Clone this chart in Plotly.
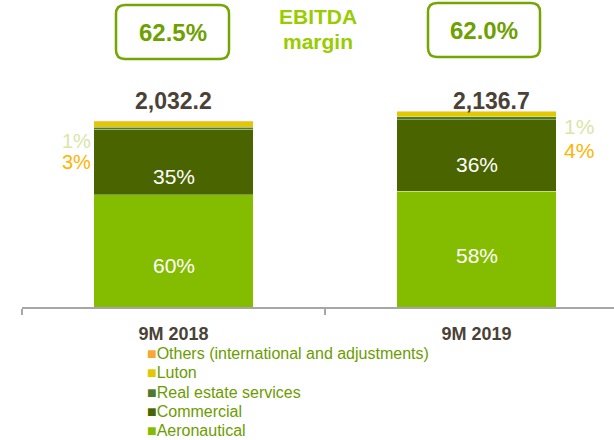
import plotly.graph_objects as go

categories = ["9M 2018", "9M 2019"]
totals = [2032.2, 2136.7]
total_labels = ["2,032.2", "2,136.7"]
margins = ["62.5%", "62.0%"]

aeronautical = [1225.0, 1262.0]
commercial = [712.0, 783.0]
real_estate = [22.0, 32.0]
luton = [60.0, 54.7]
others = [13.2, 5.0]

aero_pct = ["60%", "58%"]
comm_pct = ["35%", "36%"]
re_pct = ["1%", "1%"]
luton_pct = ["3%", "4%"]

FONT = "Arial, Liberation Sans, sans-serif"
W, H = 614, 440
L, R, T, B = 22, 614, 87, 307

def px(x):
    return (x - L) / (R - L)

def py(y):
    return (B - y) / (B - T)

series = [
    ("Aeronautical", aeronautical, "#84BD00"),
    ("Commercial", commercial, "#4A6500"),
    ("Real estate services", real_estate, "#4E7A30"),
    ("Luton", luton, "#E2C800"),
    ("Others (international and adjustments)", others, "#F5A833"),
]

fig = go.Figure()
for name, vals, col in series:
    fig.add_trace(go.Bar(
        x=categories, y=vals, name=name, marker_color=col,
        marker_line_color="rgba(255,255,255,0.5)", marker_line_width=0.6,
        width=0.525, hoverinfo="skip", showlegend=False,
    ))

ann = []

def add(**kw):
    kw.setdefault("xanchor", "center")
    kw.setdefault("yanchor", "middle")
    kw.setdefault("showarrow", False)
    ann.append(kw)

# inner percentage labels
for i, c in enumerate(categories):
    add(x=c, y=aeronautical[i] / 2, text=aero_pct[i], yshift=-15 if i == 0 else -6,
        font=dict(family=FONT, size=21, color="white"))
    add(x=c, y=aeronautical[i] + commercial[i] / 2, text=comm_pct[i], yshift=-14 if i == 0 else -9,
        font=dict(family=FONT, size=21, color="white"))
# outside small labels
add(x=px(93), y=py(141), xref="paper", yref="paper", text=re_pct[0], xanchor="right",
    font=dict(family=FONT, size=20, color="#D8E6A8"))
add(x=px(93), y=py(162), xref="paper", yref="paper", text=luton_pct[0], xanchor="right",
    font=dict(family=FONT, size=20, color="#FFB400"))
add(x=px(562), y=py(127), xref="paper", yref="paper", text=re_pct[1], xanchor="left",
    font=dict(family=FONT, size=21, color="#D8E6A8"))
add(x=px(562), y=py(150), xref="paper", yref="paper", text=luton_pct[1], xanchor="left",
    font=dict(family=FONT, size=21, color="#FFB400"))
# totals
add(x=categories[0], y=py(101), yref="paper", text="<b>%s</b>" % total_labels[0],
    font=dict(family=FONT, size=23, color="#4A4237"))
add(x=categories[1], y=py(101), yref="paper", text="<b>%s</b>" % total_labels[1], xshift=15,
    font=dict(family=FONT, size=23, color="#4A4237"))
# EBITDA margin
add(x=px(318), y=py(16), xref="paper", yref="paper", text="<b>EBITDA</b>",
    font=dict(family=FONT, size=21, color="#99CC00"))
add(x=px(318), y=py(42), xref="paper", yref="paper", text="<b>margin</b>",
    font=dict(family=FONT, size=21, color="#99CC00"))

boxes = [(116, 5, 229, 59, 172.5, 32), (428, 3, 540, 57, 484, 30)]
shapes = []
r = 9
for (x0, y0, x1, y1, cx, cy), m in zip(boxes, margins):
    p = (f"M {px(x0 + r)},{py(y0)} L {px(x1 - r)},{py(y0)} Q {px(x1)},{py(y0)} {px(x1)},{py(y0 + r)} "
         f"L {px(x1)},{py(y1 - r)} Q {px(x1)},{py(y1)} {px(x1 - r)},{py(y1)} "
         f"L {px(x0 + r)},{py(y1)} Q {px(x0)},{py(y1)} {px(x0)},{py(y1 - r)} "
         f"L {px(x0)},{py(y0 + r)} Q {px(x0)},{py(y0)} {px(x0 + r)},{py(y0)} Z")
    shapes.append(dict(type="path", path=p, xref="paper", yref="paper",
                       line=dict(color="#74A500", width=2.5), fillcolor="rgba(0,0,0,0)"))
    add(x=px(cx), y=py(cy), xref="paper", yref="paper", text="<b>%s</b>" % m,
        font=dict(family=FONT, size=24, color="#6EA000"))

# legend (drawn as text rows, top row = last series)
legend_rows = list(reversed(series))
row_y = [353, 372.5, 392, 411.5, 431]
for (name, vals, col), yy in zip(legend_rows, row_y):
    add(x=px(145), y=py(yy), xref="paper", yref="paper", xanchor="left",
        text=f"<span style='color:{col};font-size:16px'>■</span>{name}",
        font=dict(family=FONT, size=16, color="#6B9C00"))

fig.update_layout(
    width=W, height=H, barmode="stack",
    margin=dict(l=L, r=W - R, t=T, b=H - B, pad=0, autoexpand=False),
    plot_bgcolor="white", paper_bgcolor="white",
    font=dict(family=FONT),
    showlegend=False,
    annotations=ann, shapes=shapes,
    xaxis=dict(range=[-0.5, -0.5 + (R - L) / 303.0], showline=True, linecolor="#A6A6A6", linewidth=1.5,
               ticks="outside", tickson="boundaries", ticklen=6, tickcolor="#A6A6A6", tickwidth=1.5,
               tickfont=dict(family=FONT, size=18, color="#4A4237"), ticklabelstandoff=10,
               tickprefix="<b>", ticksuffix="</b>", showgrid=False, fixedrange=True, automargin=False),
    yaxis=dict(range=[0, 2400], visible=False, showgrid=False, fixedrange=True, automargin=False),
)

fig.write_html("out.html", config={"displayModeBar": False},
               post_script="document.body.style.margin='0';document.body.style.padding='0';")
